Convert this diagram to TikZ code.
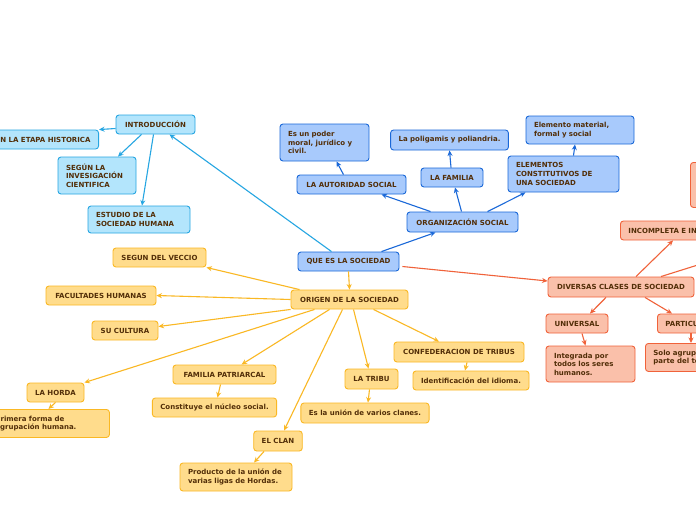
\documentclass[tikz,border=0pt]{standalone}
\usepackage{fontspec}
\setmainfont{DejaVu Sans}
\usetikzlibrary{arrows.meta,positioning,calc}

\definecolor{txtbrown}{RGB}{82,46,8}
\definecolor{introfill}{RGB}{179,229,252}
\definecolor{introline}{RGB}{38,166,226}
\definecolor{orgfill}{RGB}{168,202,252}
\definecolor{orgline}{RGB}{26,104,216}
\definecolor{origfill}{RGB}{255,220,140}
\definecolor{origline}{RGB}{250,184,36}
\definecolor{clasefill}{RGB}{250,192,170}
\definecolor{claseline}{RGB}{240,98,58}

\tikzset{
  concept/.style={draw, rounded corners=3pt, line width=0.9pt, text=txtbrown,
    font=\fontsize{7}{8.6}\selectfont\bfseries, inner xsep=8pt, inner ysep=2pt},
  introbox/.style={concept, draw=introline, fill=introfill},
  orgbox/.style={concept, draw=orgline, fill=orgfill},
  origbox/.style={concept, draw=origline, fill=origfill},
  clasebox/.style={concept, draw=claseline, fill=clasefill},
  wh/.style 2 args={minimum width=#1, minimum height=#2},
  multi/.style={align=left, text width=#1},
  introlink/.style={->, draw=introline, line width=1.1pt},
  orglink/.style={->, draw=orgline, line width=1.1pt},
  origlink/.style={->, draw=origline, line width=1.1pt},
  claselink/.style={->, draw=claseline, line width=1.1pt}
}

\begin{document}
\begin{tikzpicture}[>={Stealth[length=5.5pt,width=5pt]}, x=1pt, y=-1pt]
  % canvas
  \fill[white] (0,0) rectangle (696,520);
  \useasboundingbox (0,0) rectangle (696,520);

  % centre
  \node[orgbox, wh={101pt}{19pt}] (quees) at (348.5,261.5) {QUE ES LA SOCIEDAD};

  % introduccion
  \node[introbox, wh={79pt}{19pt}] (intro) at (155.5,124.5) {INTRODUCCIÓN};
  \node[introbox, anchor=east, minimum height=19pt] (etapa) at (99,139.5) {EN LA ETAPA HISTORICA};
  \node[introbox, wh={78pt}{37pt}, multi=62pt] (segun) at (97,175.5) {SEGÚN LA\\INVESIGACIÓN\\CIENTIFICA};
  \node[introbox, wh={102pt}{27pt}, multi=86pt] (estudio) at (139,219.5) {ESTUDIO DE LA\\SOCIEDAD HUMANA};

  % organizacion social
  \node[orgbox, wh={111pt}{20pt}] (org) at (462.5,222) {ORGANIZACIÓN SOCIAL};
  \node[orgbox, wh={109pt}{19pt}] (autoridad) at (351.5,184.5) {LA AUTORIDAD SOCIAL};
  \node[orgbox, wh={89pt}{37pt}, multi=73pt] (poder) at (324.5,142.5) {Es un poder\\moral, jurídico y\\civil.};
  \node[orgbox, wh={62pt}{19pt}] (famil) at (452,177.5) {LA FAMILIA};
  \node[orgbox, wh={117pt}{20pt}] (poligamis) at (449.5,140) {La poligamis y poliandria.};
  \node[orgbox, wh={111pt}{36pt}, multi=95pt] (elementos) at (563.5,174) {ELEMENTOS\\CONSTITUTIVOS DE\\UNA SOCIEDAD};
  \node[orgbox, wh={108pt}{28pt}, multi=92pt] (material) at (580,130) {Elemento material,\\formal y social};

  % origen de la sociedad
  \node[origbox, wh={117pt}{19pt}] (origen) at (349.5,299.5) {ORIGEN DE LA SOCIEDAD};
  \node[origbox, wh={93pt}{19pt}] (veccio) at (159.5,257.5) {SEGUN DEL VECCIO};
  \node[origbox, wh={110pt}{19pt}] (facultades) at (101,295.5) {FACULTADES HUMANAS};
  \node[origbox, wh={66pt}{19pt}] (cultura) at (125,330.5) {SU CULTURA};
  \node[origbox, wh={57pt}{19pt}] (horda) at (55.5,392.5) {LA HORDA};
  \node[origbox, anchor=north west, minimum height=28pt, multi=106pt] (primera) at (-13,409) {Primera forma de\\agrupación humana.};
  \node[origbox, wh={103pt}{19pt}] (patriarcal) at (224.5,374.5) {FAMILIA PATRIARCAL};
  \node[origbox, wh={123pt}{19pt}] (constituye) at (214.5,407.5) {Constituye el núcleo social.};
  \node[origbox, wh={48pt}{20pt}] (clan) at (278,441) {EL CLAN};
  \node[origbox, wh={110pt}{28pt}, multi=96pt] (producto) at (236,477) {Producto de la unión de\\varias ligas de Hordas.};
  \node[origbox, wh={53pt}{20pt}] (tribu) at (371.5,379) {LA TRIBU};
  \node[origbox, wh={126pt}{20pt}] (clanes) at (365,413) {Es la unión de varios clanes.};
  \node[origbox, wh={130pt}{20pt}] (confed) at (459,352) {CONFEDERACION DE TRIBUS};
  \node[origbox, wh={116pt}{19pt}] (idioma) at (471,380.5) {Identificación del idioma.};

  % diversas clases
  \node[clasebox, wh={146pt}{20pt}] (diversas) at (621,287) {DIVERSAS CLASES DE SOCIEDAD};
  \node[clasebox, anchor=west, minimum height=19pt, multi=150pt] (incompleta) at (620,230.5) {INCOMPLETA E IN};
  \node[clasebox, anchor=north west, wh={40pt}{45pt}] (lejano) at (690,162) {};
  \node[clasebox, wh={62pt}{19pt}] (universal) at (577,323.5) {UNIVERSAL};
  \node[clasebox, wh={89pt}{36pt}, multi=73pt] (integrada) at (590.5,364) {Integrada por\\todos los seres\\humanos.};
  \node[clasebox, anchor=west, minimum height=19pt, multi=80pt] (particular) at (657,323.5) {PARTICULAR};
  \node[clasebox, anchor=north west, minimum height=28pt, multi=90pt] (solo) at (645,343) {Solo agrupa\\parte del todo};
  \coordinate (fuera) at (720,258);

  % connectors
  \draw[introlink] ([xshift=-17pt]quees.north) -- ([xshift=14pt]intro.south);
  \draw[introlink] ([yshift=-4pt]intro.west) -- (etapa.north east);
  \draw[introlink] ([xshift=-14pt]intro.south) -- ([xshift=21pt]segun.north);
  \draw[introlink] ([xshift=-2pt]intro.south) -- ([xshift=3pt]estudio.north);

  \draw[orglink] ([xshift=33pt]quees.north) -- ([xshift=-27pt]org.south);
  \draw[orglink] ([xshift=-32pt]org.north) -- ([xshift=30pt]autoridad.south);
  \draw[orglink] ([xshift=-1pt]org.north) -- ([xshift=3pt]famil.south);
  \draw[orglink] ([xshift=25pt]org.north) -- ([xshift=-38pt]elementos.south);
  \draw[orglink] ([xshift=-8pt]autoridad.north) -- ([xshift=12pt]poder.south);
  \draw[orglink] ([xshift=-1pt]famil.north) -- (poligamis.south);
  \draw[orglink] ([xshift=10pt]elementos.north) -- ([xshift=-5pt]material.south);

  \draw[origlink] (quees.south) -- (origen.north);
  \draw[origlink] ([xshift=-50pt]origen.north) -- (veccio.south east);
  \draw[origlink] (origen.west) -- (facultades.east);
  \draw[origlink] (origen.south west) -- ([yshift=4pt]cultura.east);
  \draw[origlink] ([xshift=-35pt]origen.south) -- (horda.north east);
  \draw[origlink] ([xshift=-20pt]origen.south) -- ([xshift=17pt]patriarcal.north);
  \draw[origlink] ([xshift=-7pt]origen.south) -- ([xshift=6pt]clan.north);
  \draw[origlink] ([xshift=4pt]origen.south) -- ([xshift=-3pt]tribu.north);
  \draw[origlink] ([xshift=24pt]origen.south) -- ([xshift=-20pt]confed.north);
  \draw[origlink] (horda.south) -- (primera.north);
  \draw[origlink] ([xshift=-4pt]patriarcal.south) -- ([xshift=3pt]constituye.north);
  \draw[origlink] ([xshift=-14pt]clan.south) -- ([xshift=18pt]producto.north);
  \draw[origlink] ([xshift=-2pt]tribu.south) -- ([xshift=3pt]clanes.north);
  \draw[origlink] ([xshift=8pt]confed.south) -- ([xshift=-6pt]idioma.north);

  \draw[claselink] ([xshift=3pt,yshift=-5pt]quees.east) -- ([yshift=6pt]diversas.west);
  \draw[claselink] ([xshift=15pt]diversas.north) -- ([xshift=53pt]incompleta.south west);
  \draw[claselink] ([xshift=40pt]diversas.north) -- (fuera);
  \draw[claselink] ([xshift=-15pt]diversas.south) -- ([xshift=13pt]universal.north);
  \draw[claselink] ([xshift=24pt]diversas.south) -- ([xshift=15pt]particular.north west);
  \draw[claselink] ([xshift=5pt]universal.south) -- ([xshift=-5pt]integrada.north);
  \draw[claselink] ([xshift=34pt]particular.south west) -- ([xshift=46pt]solo.north west);
\end{tikzpicture}
\end{document}
